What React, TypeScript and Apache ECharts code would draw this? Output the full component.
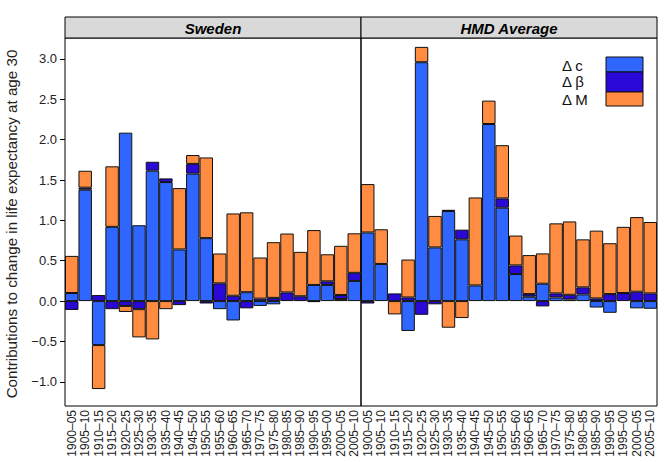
import React, { useEffect, useRef } from "react";
import * as echarts from "echarts";

const categories = [
  "1900–05", "1905–10", "1910–15", "1915–20", "1920–25", "1925–30", "1930–35", "1935–40",
  "1940–45", "1945–50", "1950–55", "1955–60", "1960–65", "1965–70", "1970–75", "1975–80",
  "1980–85", "1985–90", "1990–95", "1995–00", "2000–05", "2005–10",
];

const panelTitles = ["Sweden", "HMD Average"];

const sweC = [0.10, 1.38, -0.545, 0.92, 2.087, 0.94, 1.616, 1.475, 0.64, 1.58, 0.78, -0.10, -0.24, 0.11, -0.06, -0.04, 0, 0, 0.20, 0.20, 0.025, 0.25];
const sweB = [-0.11, 0.025, 0.075, -0.10, -0.06, -0.10, 0.11, 0.045, -0.05, 0.12, -0.03, 0.22, 0.066, -0.09, 0.03, 0.04, 0.107, 0.06, -0.012, 0.045, 0.05, 0.10];
const sweM = [0.46, 0.21, -0.545, 0.75, -0.075, -0.35, -0.475, -0.10, 0.76, 0.11, 1.0, 0.37, 1.02, 0.99, 0.51, 0.69, 0.73, 0.55, 0.68, 0.335, 0.61, 0.49];

const hmdC = [0.85, 0.46, 0, -0.37, 2.96, 0.665, 1.116, 0.765, 0.194, 2.194, 1.157, 0.335, 0.054, 0.215, 0.045, 0.02, 0.083, -0.08, -0.145, 0, -0.09, -0.095];
const hmdB = [-0.03, 0, 0.095, 0.045, -0.17, -0.04, 0.015, 0.12, 0, 0, 0.115, 0.107, 0.033, -0.066, 0.05, 0.058, 0.087, 0.033, 0.087, 0.10, 0.116, 0.095];
const hmdM = [0.60, 0.43, -0.165, 0.47, 0.19, 0.39, -0.33, -0.21, 1.09, 0.29, 0.66, 0.37, 0.483, 0.376, 0.868, 0.909, 0.595, 0.84, 0.63, 0.82, 0.925, 0.885];

const yTicks = [-1.0, -0.5, 0.0, 0.5, 1.0, 1.5, 2.0, 2.5, 3.0];
const legendLabels = ["Δ c", "Δ β", "Δ M"];

const COLORS = ["#2E66FF", "#2A08D6", "#FF8C40"];
const FONT = "Liberation Sans, Arial, sans-serif";

export default function App() {
  const ref = useRef<HTMLDivElement>(null);
  useEffect(() => {
    if (!ref.current) return;
    const chart = echarts.init(ref.current, null, { renderer: "svg" });
    const clean = (arr: number[]) => arr.map((v) => (v === 0 ? null : v));
    const panels = [
      [sweC, sweB, sweM],
      [hmdC, hmdB, hmdM],
    ];
    const gridLeft = [65, 361];
    const gridW = 296;
    const top = 38;
    const bottom = 406;
    const series: any[] = [];
    panels.forEach((p, pi) => {
      p.forEach((arr, si) => {
        series.push({
          type: "bar",
          name: legendLabels[si],
          xAxisIndex: pi,
          yAxisIndex: pi,
          stack: "s" + pi,
          data: clean(arr),
          barCategoryGap: "0%",
          itemStyle: { color: COLORS[si], borderColor: "#111", borderWidth: 1 },
          emphasis: { disabled: true },
        });
      });
    });
    const graphics: any[] = [];
    panelTitles.forEach((t, i) => {
      graphics.push({
        type: "rect",
        shape: { x: gridLeft[i], y: 17, width: gridW, height: 21 },
        style: { fill: "#D9D9D9", stroke: "#000", lineWidth: 1 },
      });
      graphics.push({
        type: "text",
        x: gridLeft[i] + gridW / 2,
        y: 28,
        style: {
          text: t,
          fontFamily: FONT,
          fontSize: 15,
          fontWeight: "bold",
          fontStyle: "italic",
          fill: "#000",
          align: "center",
          verticalAlign: "middle",
        },
      });
    });
    graphics.push({
      type: "text",
      x: 11,
      y: 224,
      rotation: Math.PI / 2,
      originX: 0,
      originY: 0,
      style: {
        x: 0,
        y: 0,
        text: "Contributions to change in life expectancy at age 30",
        fontFamily: FONT,
        fontSize: 15.2,
        fill: "#222",
        align: "center",
        verticalAlign: "middle",
      },
    });
    // legend
    const legY = [65.5, 81.5, 99];
    const swatch = [
      [57, 15],
      [72, 20],
      [92, 14],
    ];
    legendLabels.forEach((l, i) => {
      graphics.push({
        type: "text",
        x: 562,
        y: legY[i],
        style: {
          text: l,
          fontFamily: FONT,
          fontSize: 15,
          fill: "#111",
          align: "left",
          verticalAlign: "middle",
        },
      });
      graphics.push({
        type: "rect",
        shape: { x: 606, y: swatch[i][0], width: 37, height: swatch[i][1] },
        style: { fill: COLORS[i], stroke: "#111", lineWidth: 1 },
      });
    });

    chart.setOption({
      animation: false,
      grid: gridLeft.map((l) => ({
        left: l,
        width: gridW,
        top,
        height: bottom - top,
        show: true,
        borderColor: "#000",
        borderWidth: 1,
        backgroundColor: "transparent",
        containLabel: false,
      })),
      xAxis: [0, 1].map((i) => ({
        type: "category",
        gridIndex: i,
        data: categories,
        axisLine: { show: false },
        axisTick: { show: false },
        axisLabel: {
          rotate: 90,
          interval: 0,
          margin: 4,
          fontFamily: FONT,
          fontSize: 12,
          color: "#222",
        },
      })),
      yAxis: [0, 1].map((i) => ({
        type: "value",
        gridIndex: i,
        min: -1.3,
        max: 3.26,
        splitLine: { show: false },
        axisLine: { show: false },
        axisTick: {
          show: i === 0,
          length: 5,
          lineStyle: { color: "#000" },
          customValues: yTicks,
        },
        axisLabel: {
          show: i === 0,
          fontFamily: FONT,
          fontSize: 13,
          color: "#222",
          margin: 8,
          customValues: yTicks,
          formatter: (v: number) => (v < 0 ? "−" + Math.abs(v).toFixed(1) : v.toFixed(1)),
        },
      })),
      series,
      graphic: graphics,
    });
    return () => chart.dispose();
  }, []);
  return <div ref={ref} style={{ width: 664, height: 462, position: "absolute", left: 0, top: 0, background: "#fff" }} />;
}
